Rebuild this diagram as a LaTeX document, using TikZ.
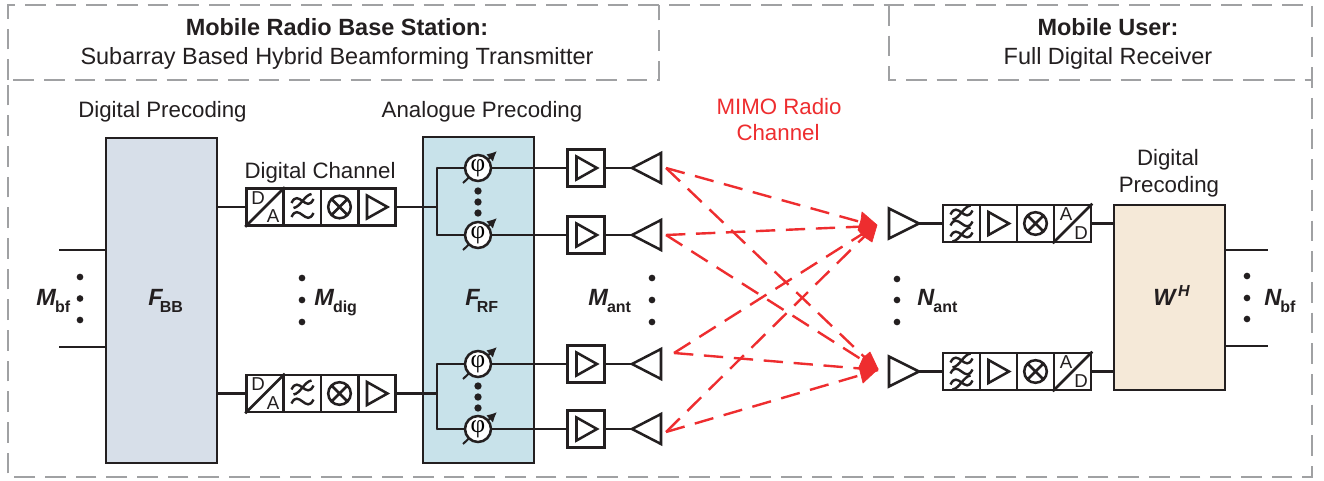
\documentclass[tikz,border=0pt]{standalone}
\usepackage{fontspec}
\setmainfont{Liberation Sans}
\newfontfamily\phifont{Liberation Serif}
\usetikzlibrary{arrows.meta}
\definecolor{framegrey}{HTML}{A0A1A3}
\definecolor{inkblack}{HTML}{231F20}
\definecolor{redline}{HTML}{EE2D2F}
\definecolor{bbfill}{HTML}{D7DFE9}
\definecolor{rffill}{HTML}{C8E2EA}
\definecolor{whfill}{HTML}{F5E9D8}
\newcommand{\lbl}{\fontsize{16.7pt}{20pt}\selectfont}
\newcommand{\ttl}{\fontsize{17.6pt}{20pt}\selectfont}
\newcommand{\symb}[3]{{\fontsize{17.6pt}{20pt}\selectfont\bfseries\itshape #1}\hspace{#3}\raisebox{-5.8pt}{\fontsize{12pt}{14pt}\selectfont\bfseries #2}}
\tikzset{
  x=0.75pt,y=-0.75pt,
  frame/.style={draw=framegrey,line width=2pt,dash pattern=on 15.5pt off 7.5pt},
  blockbox/.style={draw=inkblack,line width=2.1pt,inner sep=0pt},
  cellbox/.style={draw=inkblack,line width=1.9pt,fill=white,inner sep=0pt,minimum width=27.8pt,minimum height=27.8pt},
  wire/.style={draw=inkblack,line width=1.6pt},
  midwire/.style={draw=inkblack,line width=1.9pt},
  thickwire/.style={draw=inkblack,line width=2.2pt},
  sym/.style={draw=inkblack,line width=1.9pt,line join=miter},
  wave/.style={draw=inkblack,line width=1.8pt},
  txt/.style={inner sep=0pt,anchor=base,text=inkblack,font=\lbl},
  mathlbl/.style={inner sep=0pt,anchor=base west,text=inkblack},
  redtxt/.style={txt,text=redline},
  rad/.style={draw=redline,line width=1.8pt,dash pattern=on 14.5pt off 8pt},
  blob/.style={fill=redline,draw=redline,line width=.5pt,line join=round},
  dot/.style={circle,fill=inkblack,inner sep=0pt,minimum size=5pt},
  shifter/.style={circle,draw=inkblack,line width=1.9pt,fill=white,inner sep=0pt,minimum size=19.5pt},
  tinytxt/.style={inner sep=0pt,text=inkblack,font=\fontsize{14pt}{15pt}\selectfont},
}
\newcommand{\ampsym}[2]{\draw[sym] (#1-10,#2-11.5) -- (#1+10.5,#2) -- (#1-10,#2+11.5) -- cycle;}
\newcommand{\mixsym}[2]{\draw[sym] (#1,#2) circle[radius=11.3]
  (#1-8,#2-8) -- (#1+8,#2+8) (#1-8,#2+8) -- (#1+8,#2-8);}
\newcommand{\wavesym}[2]{\draw[wave] (#1-11,#2+2) .. controls (#1-4,#2-13) and (#1+4,#2+13) .. (#1+11,#2-2);}
\newcommand{\crosswave}[2]{\wavesym{#1}{#2}\draw[wave] (#1-9,#2+7) .. controls (#1-2,#2+6) and (#1+2,#2-6) .. (#1+9,#2-7);}
\newcommand{\txchain}[2]{
  \node[cellbox] (#1da) at (265,#2) {};
  \node[cellbox] (#1lp) at (302.5,#2) {};
  \node[cellbox] (#1mx) at (339.5,#2) {};
  \node[cellbox] (#1am) at (377,#2) {};
  \draw[sym] (#1da.south west) -- (#1da.north east);
  \node[tinytxt] (#1dal) at (258,#2-9) {D};
  \node[tinytxt] (#1dar) at (273,#2+9.5) {A};
  \crosswave{302.5}{#2-6}
  \wavesym{302.5}{#2+8}
  \mixsym{339.5}{#2}
  \ampsym{377}{#2}
}
\newcommand{\rxchain}[2]{
  \node[cellbox] (#1lp) at (961.5,#2) {};
  \node[cellbox] (#1am) at (998.5,#2) {};
  \node[cellbox] (#1mx) at (1035.5,#2) {};
  \node[cellbox] (#1ad) at (1072.5,#2) {};
  \draw[sym] (#1ad.south west) -- (#1ad.north east);
  \node[tinytxt] (#1adl) at (1066,#2-9) {A};
  \node[tinytxt] (#1adr) at (1081,#2+9.5) {D};
  \crosswave{961.5}{#2-11}
  \wavesym{961.5}{#2}
  \crosswave{961.5}{#2+11}
  \ampsym{998.5}{#2}
  \mixsym{1035.5}{#2}
}
\newcommand{\txbranch}[2]{
  \coordinate (#1in) at (437,#2);
  \draw[draw=inkblack,line width=1.5pt,-{Latex[length=7.5pt,width=7.5pt]}] (463,#2+15) -- (497,#2-17);
  \node[shifter] (#1ps) at (478,#2) {\phifont\fontsize{19pt}{20pt}\selectfont φ};
  \node[cellbox] (#1pa) at (586,#2) {};
  \ampsym{586.5}{#2}
  \coordinate (#1tip) at (632,#2);
  \draw[wire] (#1in) -- (#1ps);
  \draw[midwire] (#1ps) -- (534,#2);
  \draw[wire] (534,#2) -- (#1pa);
  \draw[thickwire] (#1pa) -- (#1tip);
  \draw[sym] (#1tip) -- (661,#2-15) -- (661,#2+15) -- cycle;
}
\begin{document}
\begin{tikzpicture}
\useasboundingbox (0,0) rectangle (1324,481);
\fill[white] (0,0) rectangle (1324,481);
\draw[frame] (8,80) -- (8,5) -- (1312,5) -- (1312,477) -- (8,477) -- (8,80) -- (659,80) -- (659,5);
\draw[frame] (889,5) -- (889,80) -- (1312,80);
\node[txt,font=\ttl\bfseries] (t1) at (337,36) {Mobile Radio Base Station:};
\node[txt,font=\ttl] (t2) at (337,65) {Subarray Based Hybrid Beamforming Transmitter};
\node[txt,font=\ttl\bfseries] (t3) at (1108,36) {Mobile User:};
\node[txt,font=\ttl] (t4) at (1108,65) {Full Digital Receiver};
\node[txt] (t5) at (162.5,118) {Digital Precoding};
\node[txt] (t6) at (482,118) {Analogue Precoding};
\node[txt] (t7) at (320,179) {Digital Channel};
\node[redtxt] (t8) at (779,115) {MIMO Radio};
\node[redtxt] (t9) at (778,141) {Channel};
\node[txt] (t10) at (1168,166) {Digital};
\node[txt] (t11) at (1169,193) {Precoding};
\draw[blockbox,fill=bbfill] (106,138) rectangle (217,463);
\draw[blockbox,fill=rffill] (423,137) rectangle (534,463);
\draw[blockbox,fill=whfill] (1114,205) rectangle (1225,390);
\coordinate (bbin1) at (106,250);
\coordinate (bbin2) at (106,347);
\coordinate (bbout1) at (217,207);
\coordinate (bbout2) at (217,393.5);
\coordinate (wh1) at (1114,223.5);
\coordinate (wh2) at (1114,371.5);
\coordinate (whout1) at (1225,250);
\coordinate (whout2) at (1225,346);
\coordinate (m1) at (59,250);
\coordinate (m2) at (59,347);
\coordinate (n1) at (1268,250);
\coordinate (n2) at (1268,346);
\draw[wire] (m1) -- (bbin1) (m2) -- (bbin2);
\draw[wire] (whout1) -- (n1) (whout2) -- (n2);
\txchain{a}{207}
\txchain{b}{393.5}
\draw[wire] (bbout1) -- (ada.west) (bbout2) -- (bda.west);
\txbranch{p}{168}
\txbranch{q}{235}
\txbranch{r}{364}
\txbranch{s}{429}
\coordinate (busa) at (437,207);
\coordinate (busb) at (437,393.5);
\draw[wire] (aam.east) -- (busa) (bam.east) -- (busb);
\draw[wire,line cap=round] (pin) -- (qin) (rin) -- (sin);
\foreach \d in {191,202,213,386,397,408} \node[dot,minimum size=5.5pt] at (478,\d) {};
\foreach \d/\x in {277/80,298.5/80,320/80,278/302,300/302,322/302,278/652,300/652,322/652,279/897,300/897,322/897,276/1247,298/1247,319/1247}
  \node[dot] at (\x,\d) {};
\rxchain{c}{223.5}
\rxchain{d}{371.5}
\coordinate (ctip) at (919,223.5);
\coordinate (dtip) at (919,371.5);
\draw[thickwire] (ctip) -- (clp.west) (dtip) -- (dlp.west);
\draw[wire] (cad.east) -- (wh1) (dad.east) -- (wh2);
\draw[sym] (ctip) -- (889,208.5) -- (889,238.5) -- cycle;
\draw[sym] (dtip) -- (889,356.5) -- (889,386.5) -- cycle;
\coordinate (ta) at (666,168);
\coordinate (tb) at (666,235);
\coordinate (tc) at (674,353);
\coordinate (td) at (666,432);
\coordinate (ra) at (875,226);
\coordinate (rb) at (878,370);
\foreach \t in {ta,tb,tc,td} {
  \draw[rad] (\t) -- (ra);
  \draw[rad] (\t) -- (rb);
}
\fill[blob] (862,212) -- (877,225) -- (872,242) -- (863,236) -- (858,230) -- (861,220) -- cycle;
\fill[blob] (870,352) -- (878,369) -- (863,383) -- (861,375) -- (859,367) -- (863,358) -- cycle;
\node[mathlbl] (mbf) at (36,305) {\symb{M}{bf}{-0.6pt}};
\node[mathlbl] (fbb) at (148,305) {\symb{F}{BB}{-2pt}};
\node[mathlbl] (mdig) at (314,305) {\symb{M}{dig}{-0.6pt}};
\node[mathlbl] (frf) at (465,305) {\symb{F}{RF}{-2pt}};
\node[mathlbl] (mant) at (588,305) {\symb{M}{ant}{-0.6pt}};
\node[mathlbl] (nant) at (917,305) {\symb{N}{ant}{-0.6pt}};
\node[mathlbl] (nbf) at (1264,305) {\symb{N}{bf}{-0.6pt}};
\node[mathlbl] (wh) at (1153,305) {{\fontsize{17.6pt}{20pt}\selectfont\bfseries\itshape W}\hspace{2pt}\raisebox{6.5pt}{\fontsize{12pt}{14pt}\selectfont\bfseries\itshape H}};
\end{tikzpicture}
\end{document}
